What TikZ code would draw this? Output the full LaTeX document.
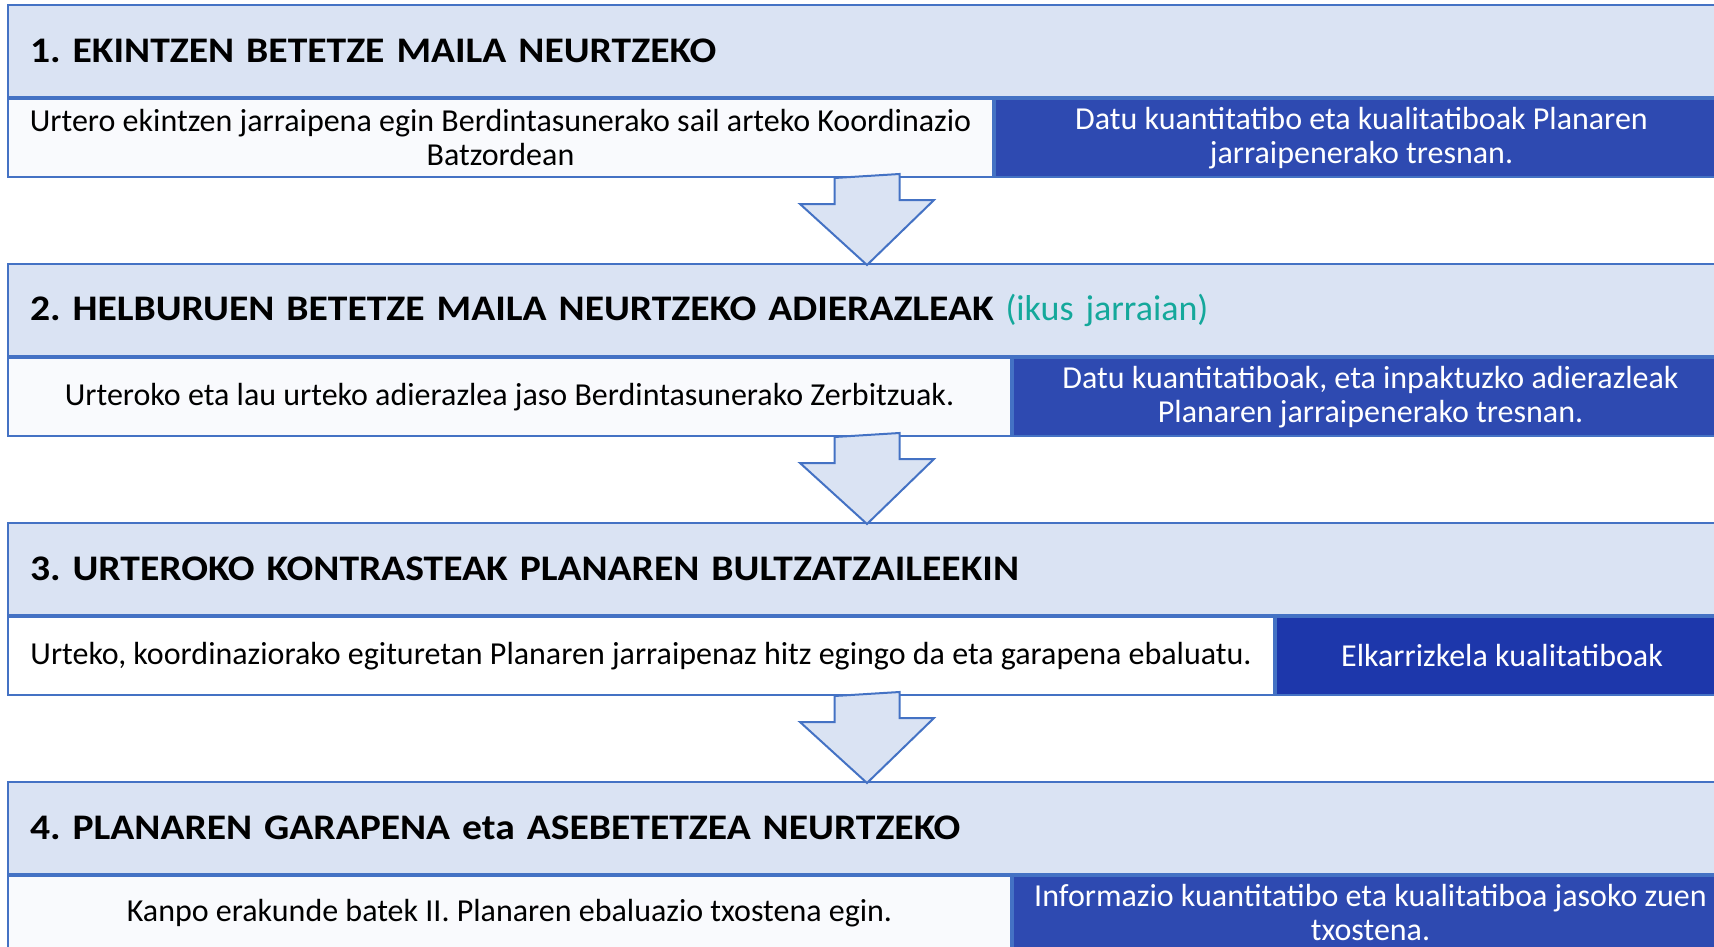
\documentclass[tikz,border=0pt]{standalone}
\usepackage{fontspec}
\setmainfont{Carlito}[BoldFeatures={FakeStretch=1.1}]
\usepackage{xcolor}
\usepackage{tikz}
\usetikzlibrary{positioning,calc}
\frenchspacing

\definecolor{headblue}{HTML}{DAE3F3}
\definecolor{frameblue}{HTML}{4472C4}
\definecolor{cellwhite}{HTML}{F9FAFD}
\definecolor{darkblue}{HTML}{2E4AB1}
\definecolor{deepblue}{HTML}{1D37AB}
\definecolor{tealtext}{HTML}{14A89B}

\tikzset{
  head/.style={draw=frameblue, fill=headblue, line width=2pt, anchor=north west,
    minimum width=1718pt, minimum height=92pt, inner xsep=22pt, text width=1674pt,
    align=left, font=\fontsize{36}{40}\selectfont\bfseries},
  cellw/.style={draw=frameblue, fill=cellwhite, line width=2pt, anchor=north west,
    minimum height=78pt, align=center, font=\fontsize{32}{34}\selectfont},
  celld/.style={cellw, fill=darkblue, text=white},
  blockarrow/.style={draw=frameblue, fill=headblue, line width=2pt, line join=miter}
}

\begin{document}
\begin{tikzpicture}[x=1pt,y=-1pt]
                \clip (0,0) rectangle (1714,947);
                \fill[white] (0,0) rectangle (1714,947);
                % 1
                \node[head] (h1) at (7,4) {1. EKINTZEN BETETZE MAILA NEURTZEKO};
                \node[cellw, minimum width=985pt] (a1) at (h1.south west) {Urtero ekintzen jarraipena egin Berdintasunerako sail arteko Koordinazio\\Batzordean};
                \node[celld, minimum width=733pt] (b1) at (a1.north east) {Datu kuantitatibo eta kualitatiboak Planaren\\jarraipenerako tresnan.};
                % 2
                \node[head] (h2) at (7,263) {2. HELBURUEN BETETZE MAILA NEURTZEKO ADIERAZLEAK {\mdseries\color{tealtext}(ikus jarraian)}};
                \node[cellw, minimum width=1003pt] (a2) at (h2.south west) {Urteroko eta lau urteko adierazlea jaso Berdintasunerako Zerbitzuak.};
                \node[celld, minimum width=715pt] (b2) at (a2.north east) {Datu kuantitatiboak, eta inpaktuzko adierazleak\\Planaren jarraipenerako tresnan.};
                % 3
                \node[head] (h3) at (7,522) {3. URTEROKO KONTRASTEAK PLANAREN BULTZATZAILEEKIN};
                \node[cellw, fill=white, minimum width=1266pt] (a3) at (h3.south west) {Urteko, koordinaziorako egituretan Planaren jarraipenaz hitz egingo da eta garapena ebaluatu.};
                \node[celld, fill=deepblue, minimum width=452pt] (b3) at (a3.north east) {Elkarrizkela kualitatiboak};
                % 4
                \node[head] (h4) at (7,781) {4. PLANAREN GARAPENA eta ASEBETETZEA NEURTZEKO};
                \node[cellw, minimum width=1003pt, minimum height=74pt] (a4) at (h4.south west) {Kanpo erakunde batek II. Planaren ebaluazio txostena egin.};
                \node[celld, minimum width=715pt, minimum height=74pt] (b4) at (a4.north east) {Informazio kuantitatibo eta kualitatiboa jasoko zuen\\txostena.};
                % arrows
                \draw[blockarrow] ($(a1.south -| h1.south)+(-32.5,0)$) -- ++(0,26) -- ++(-34.5,0) -- ($(h2.north)+(0,2)$) -- ++(67,-65) -- ++(-34.5,0) -- ++(0,-26) -- cycle;
                \draw[blockarrow] ($(a2.south -| h2.south)+(-32.5,0)$) -- ++(0,26) -- ++(-34.5,0) -- ($(h3.north)+(0,2)$) -- ++(67,-65) -- ++(-34.5,0) -- ++(0,-26) -- cycle;
                \draw[blockarrow] ($(a3.south -| h3.south)+(-32.5,0)$) -- ++(0,26) -- ++(-34.5,0) -- ($(h4.north)+(0,2)$) -- ++(67,-65) -- ++(-34.5,0) -- ++(0,-26) -- cycle;
            \end{tikzpicture}
\end{document}
